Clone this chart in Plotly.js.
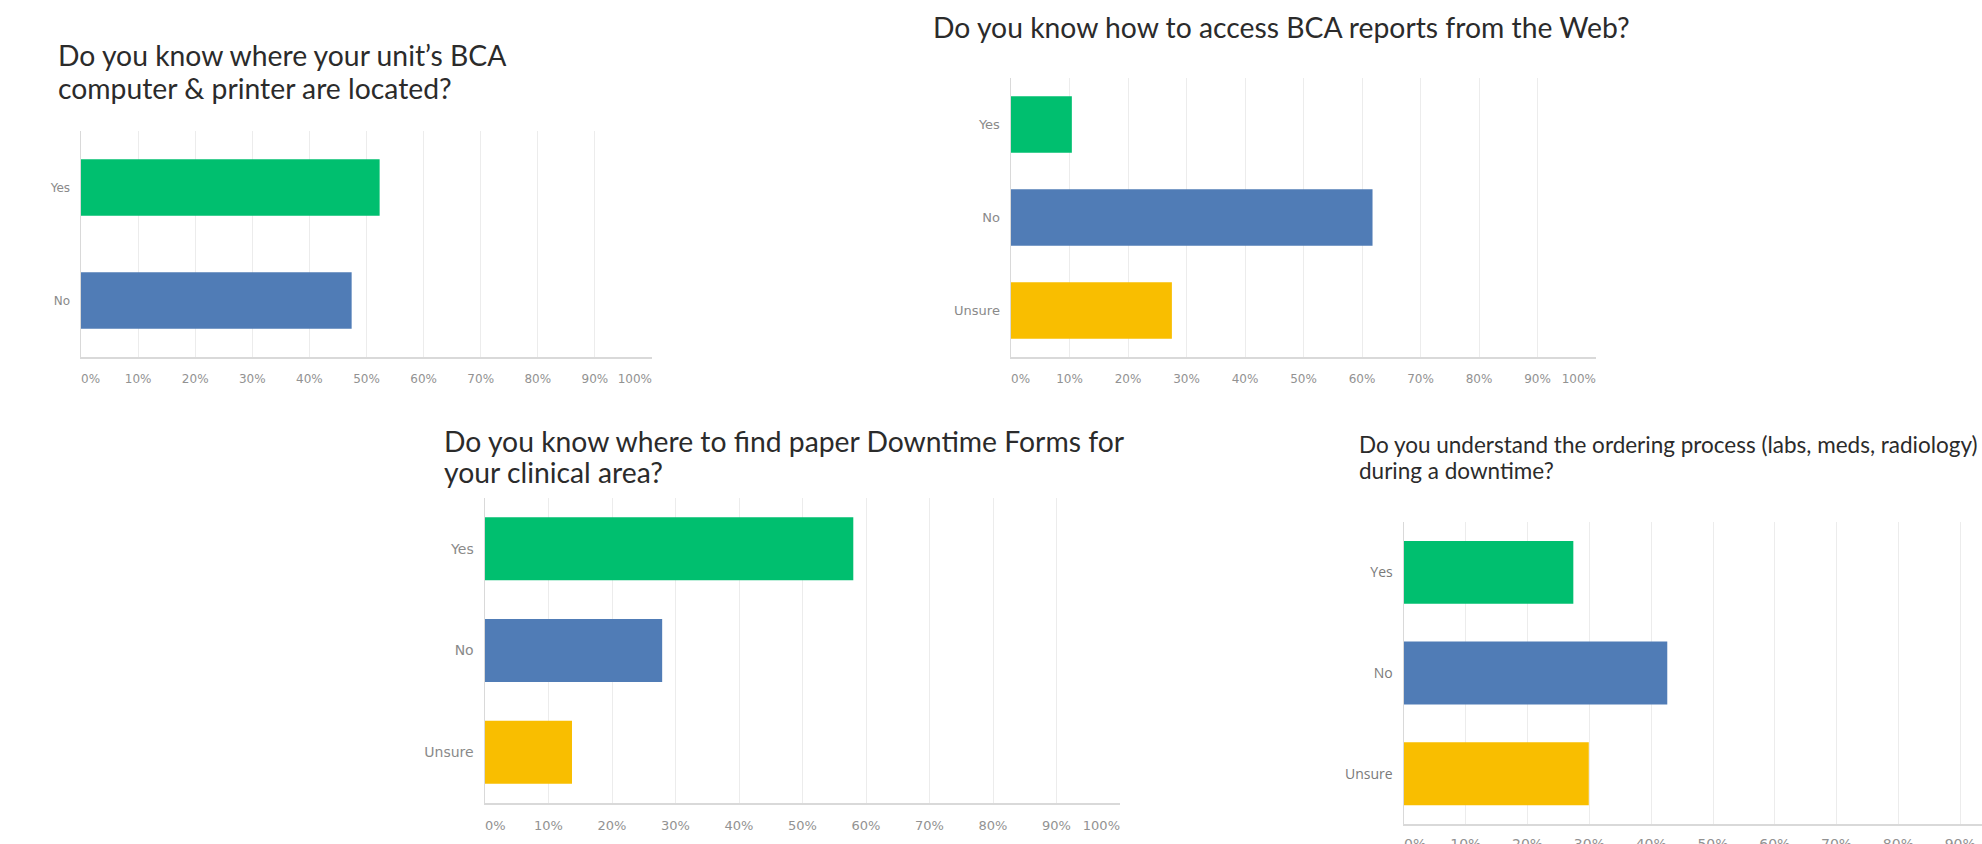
<!DOCTYPE html>
<html>
<head>
<meta charset="utf-8">
<script src="https://cdn.plot.ly/plotly-3.0.1.min.js"></script>
<style>
  html, body { margin: 0; padding: 0; background: #ffffff; }
  #chart { width: 1982px; height: 844px; }
</style>
</head>
<body>
<div id="chart"></div>
<script>
// ---------------- data ----------------
const q1TitleLines = ["Do you know where your unit’s BCA", "computer &amp; printer are located?"];
const q1Categories = ["Yes", "No"];
const q1Values = [52.3, 47.4];

const q2TitleLines = ["Do you know how to access BCA reports from the Web?"];
const q2Categories = ["Yes", "No", "Unsure"];
const q2Values = [10.4, 61.8, 27.5];

const q3TitleLines = ["Do you know where to find paper Downtime Forms for", "your clinical area?"];
const q3Categories = ["Yes", "No", "Unsure"];
const q3Values = [58.0, 27.9, 13.7];

const q4TitleLines = ["Do you understand the ordering process (labs, meds, radiology)", "during a downtime?"];
const q4Categories = ["Yes", "No", "Unsure"];
const q4Values = [27.4, 42.6, 29.9];

const answerColors = { "Yes": "#00BF6F", "No": "#507CB6", "Unsure": "#F9BE00" };
const tickValues = [0, 10, 20, 30, 40, 50, 60, 70, 80, 90, 100];
const tickLabels = ["0%", "10%", "20%", "30%", "40%", "50%", "60%", "70%", "80%", "90%", "100%"];

// ---------------- layout helpers ----------------
const W = 1982, H = 844;
const NB = "\u00a0";
// first label left-aligned to its gridline, last one right-aligned (as in the source)
const shiftedLabels = tickLabels.map((t, i) => {
  if (i === 0) return NB.repeat(5) + t;
  if (i === tickLabels.length - 1) return t + NB.repeat(9);
  return t;
});

function xDom(a, b) { return [a / W, Math.min(1, b / W)]; }
function yDom(top, bottom) { return [1 - bottom / H, 1 - top / H]; }

function barTrace(cats, vals, xa, ya, width) {
  return {
    type: "bar", orientation: "h",
    y: cats, x: vals,
    xaxis: xa, yaxis: ya,
    width: width,
    marker: { color: cats.map(c => answerColors[c]), line: { width: 0 } },
    hoverinfo: "skip"
  };
}

function xAxis(domain, yanchor, range, fontSize, family, standoff) {
  return {
    domain: domain, anchor: yanchor, range: range, fixedrange: true,
    tickmode: "array", tickvals: tickValues, ticktext: shiftedLabels,
    tickangle: 0, ticks: "", showgrid: true, gridcolor: "#ECECEC", gridwidth: 1,
    zeroline: false, showline: true, linecolor: "#D9D9D9", linewidth: 1.5,
    tickfont: { family: family, size: fontSize, color: "#929292" },
    ticklabelstandoff: standoff
  };
}
function yAxis(domain, xanchor, fontSize, family, color) {
  return {
    domain: domain, anchor: xanchor, type: "category", autorange: "reversed",
    fixedrange: true, ticks: "", showgrid: false, zeroline: false,
    showline: true, linecolor: "#D9D9D9", linewidth: 1.5,
    tickfont: { family: family, size: fontSize, color: color },
    ticklabelstandoff: 7
  };
}

const data = [
  barTrace(q1Categories, q1Values, "x", "y", 0.5),
  barTrace(q2Categories, q2Values, "x2", "y2", 0.61),
  barTrace(q3Categories, q3Values, "x3", "y3", 0.62),
  barTrace(q4Categories, q4Values, "x4", "y4", 0.625)
];

const q4PxPer10 = 61.8;
const q4Left = 1404;

const titleFont = (s) => ({ family: "Lato, 'Open Sans', sans-serif", size: s, color: "#2b2b2b" });

function titleAnnotations(lines, xLeft, yCenters, size) {
  return lines.map((t, i) => ({
    text: t, xref: "paper", yref: "paper", x: xLeft / W, y: 1 - yCenters[i] / H,
    xanchor: "left", yanchor: "middle", align: "left", showarrow: false, font: titleFont(size)
  }));
}

const layout = {
  width: W, height: H,
  margin: { l: 0, r: 0, t: 0, b: 0, pad: 0 },
  paper_bgcolor: "#ffffff", plot_bgcolor: "#ffffff",
  showlegend: false,
  xaxis: xAxis(xDom(81, 652), "y", [0, 100], 12, "DejaVu Sans", 10),
  yaxis: yAxis(yDom(131, 357), "x", 12, "DejaVu Sans", "#8A8A8A"),
  xaxis2: xAxis(xDom(1011, 1596), "y2", [0, 100], 12, "DejaVu Sans", 10),
  yaxis2: yAxis(yDom(78, 357), "x2", 13, "DejaVu Sans", "#8A8A8A"),
  xaxis3: xAxis(xDom(485, 1120), "y3", [0, 100], 13, "DejaVu Sans", 10),
  yaxis3: yAxis(yDom(498, 803), "x3", 14, "DejaVu Sans", "#8A8A8A"),
  xaxis4: xAxis(xDom(q4Left, W), "y4", [0, (W - q4Left) / q4PxPer10 * 10], 14, "DejaVu Sans", 7),
  yaxis4: yAxis(yDom(522, 824), "x4", 14, "Open Sans", "#7A7A7A"),
  annotations: [].concat(
    titleAnnotations(q1TitleLines, 56, [55, 88], 28.3),
    titleAnnotations(q2TitleLines, 931, [27], 28.3),
    titleAnnotations(q3TitleLines, 442, [441, 472], 28.3),
    titleAnnotations(q4TitleLines, 1357, [444.5, 470.5], 22.5)
  )
};

Plotly.newPlot("chart", data, layout, { displayModeBar: false, staticPlot: true });
</script>
</body>
</html>
